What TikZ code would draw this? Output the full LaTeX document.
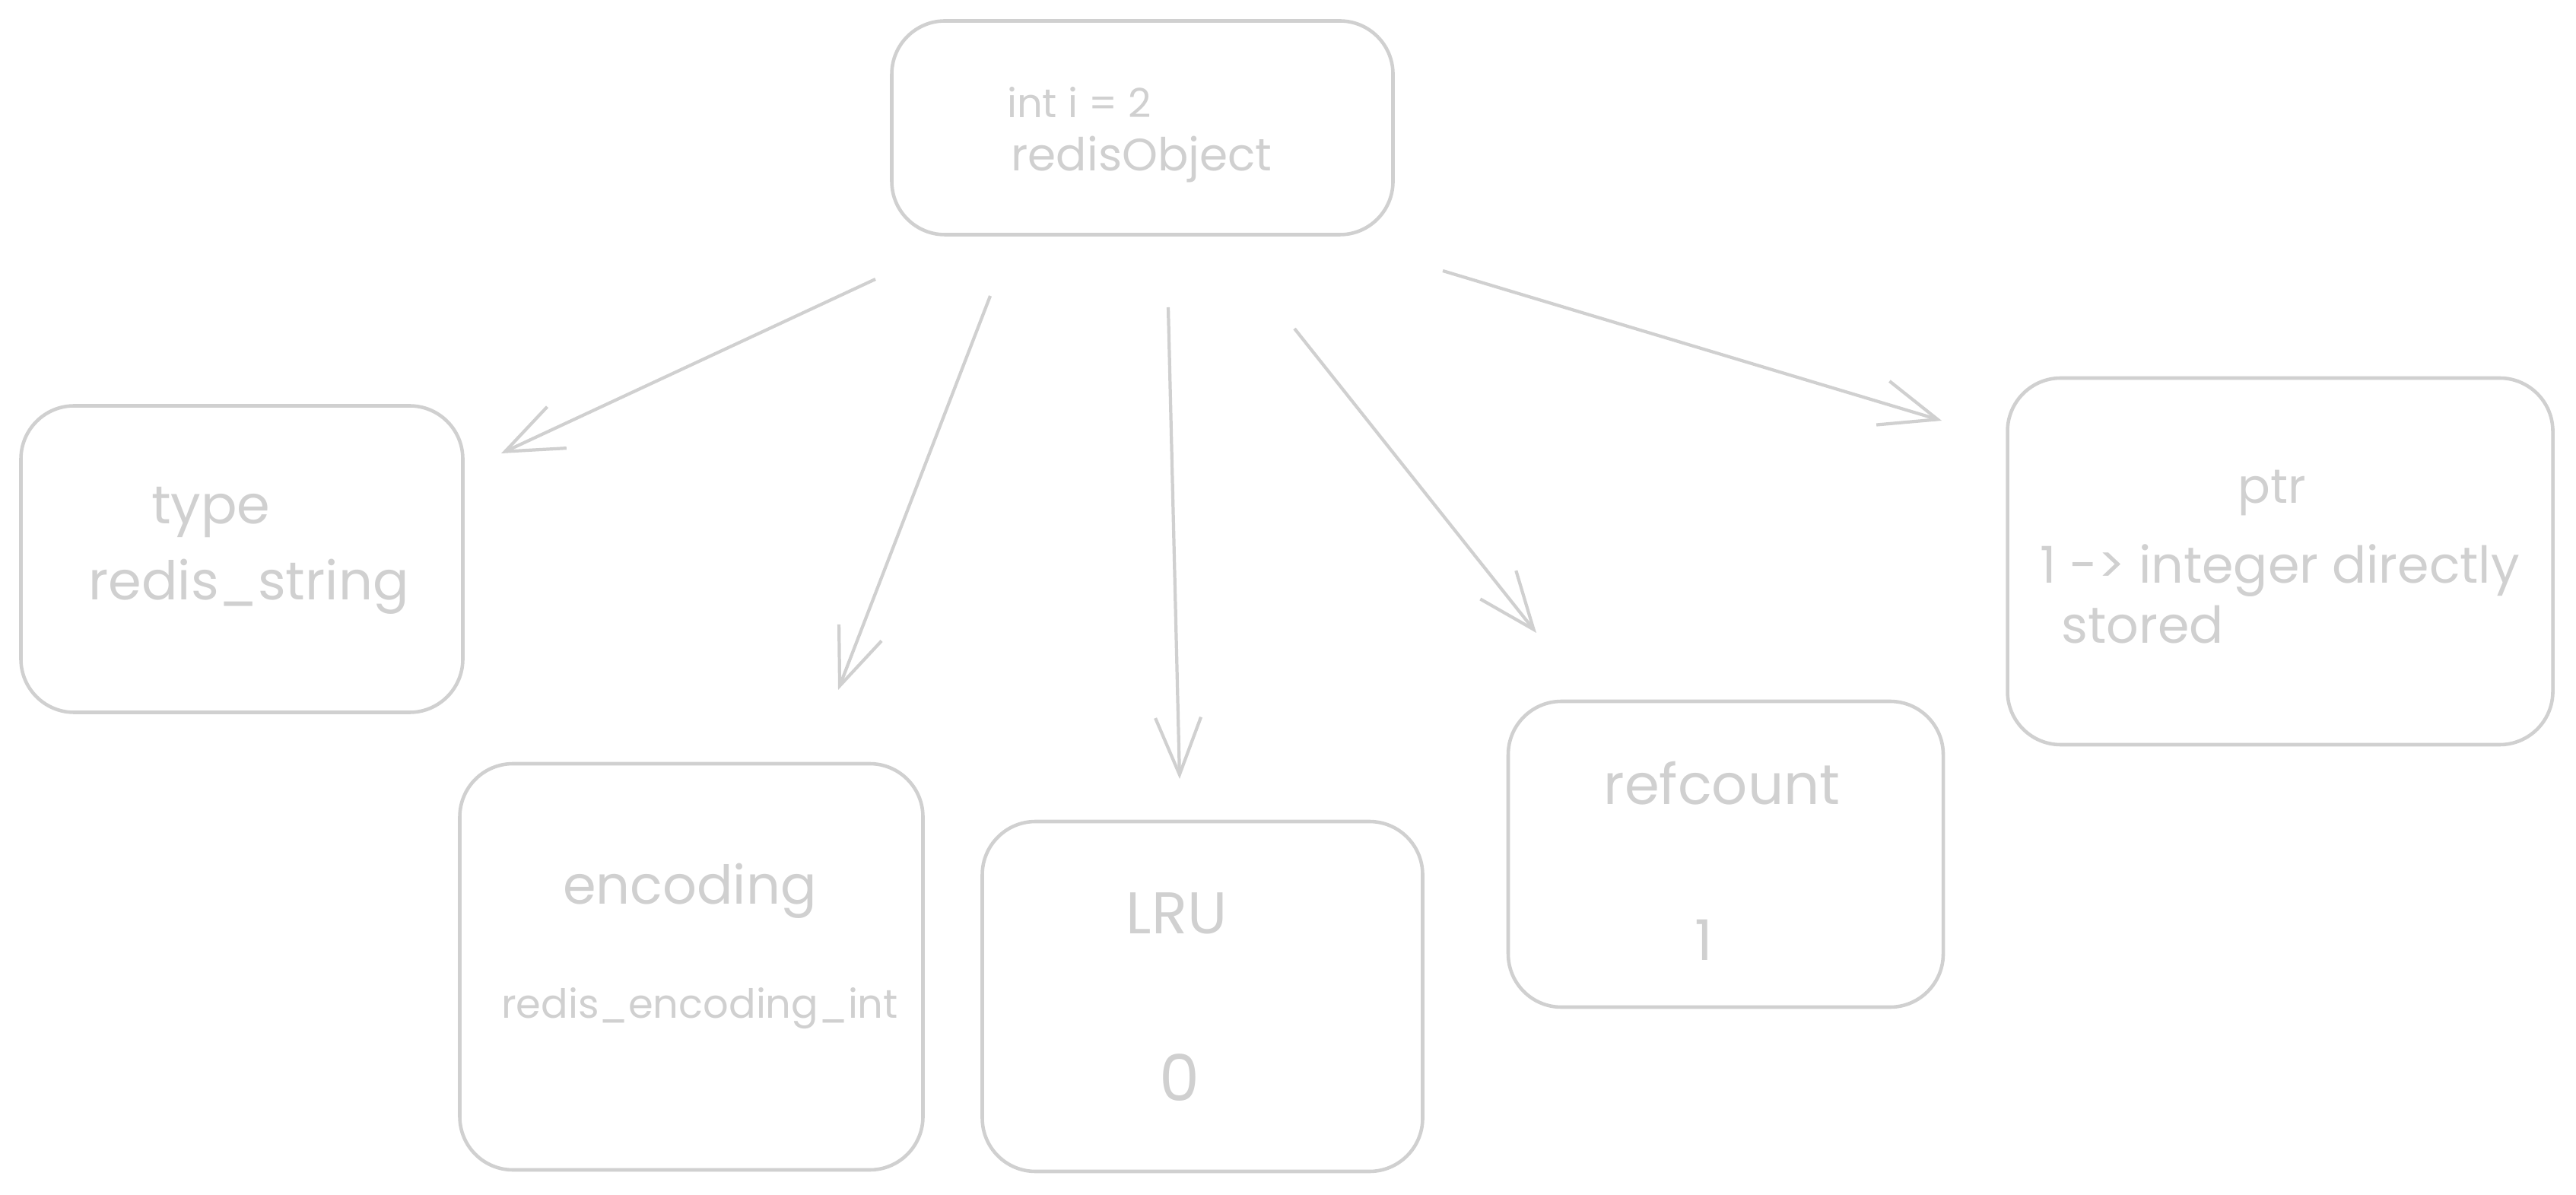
\documentclass[tikz,border=0pt]{standalone}
\usepackage{fontspec}
\setmainfont{Poppins}
\usetikzlibrary{arrows.meta}
\definecolor{sketch}{HTML}{D0D0D0}
\tikzset{
  field/.style={draw=sketch, line width=1.3pt, rounded corners=0.7cm, inner sep=0pt},
  txt/.style={text=sketch, inner sep=1pt},
  link/.style={draw=sketch, line width=1.2pt, -{Straight Barb[length=0.75cm, width=0.6cm, line width=1.2pt]}},
}
\begin{document}
\begin{tikzpicture}[scale=1]
  \useasboundingbox (0,0) rectangle (33.87,15.70);
  % boxes
  \node[field, minimum width=6.59cm, minimum height=2.81cm] (obj) at (15.02,14.02) {};
  \node[field, minimum width=5.81cm, minimum height=4.03cm] (type) at (3.18,8.35) {};
  \node[field, minimum width=6.09cm, minimum height=5.34cm] (enc) at (9.09,2.99) {};
  \node[field, minimum width=5.79cm, minimum height=4.60cm] (lru) at (15.81,2.60) {};
  \node[field, minimum width=5.72cm, minimum height=4.02cm] (ref) at (22.69,4.47) {};
  \node[field, minimum width=7.17cm, minimum height=4.82cm] (ptr) at (29.98,8.32) {};
  % texts
  \node[txt, font=\fontsize{15}{18}\selectfont] (objA) at (14.19,14.36) {int i = 2};
  \node[txt, font=\fontsize{17}{20}\selectfont] (objB) at (15.01,13.60) {redisObject};
  \node[txt, anchor=west, font=\fontsize{20}{24}\selectfont] (typeA) at (1.95,8.96) {type};
  \node[txt, font=\fontsize{20}{24}\selectfont] (typeB) at (3.27,7.99) {redis\_string};
  \node[txt, font=\fontsize{20}{24}\selectfont] (encA) at (9.07,3.99) {encoding};
  \node[txt, font=\fontsize{15}{18}\selectfont] (encB) at (9.20,2.44) {redis\_encoding\_int};
  \node[txt, font=\fontsize{22}{26}\selectfont] (lruA) at (15.47,3.69) {LRU};
  \node[txt, font=\fontsize{24}{28}\selectfont] (lruB) at (15.51,1.53) {0};
  \node[txt, font=\fontsize{21}{25}\selectfont] (refA) at (22.64,5.40) {refcount};
  \node[txt, font=\fontsize{21}{25}\selectfont] (refB) at (22.40,3.34) {1};
  \node[txt, font=\fontsize{18}{22}\selectfont] (ptrA) at (29.87,9.22) {ptr};
  \node[txt, anchor=west, font=\fontsize{19}{23}\selectfont] (ptrB) at (26.78,8.20) {1 -> integer directly};
  \node[txt, anchor=west, font=\fontsize{19}{23}\selectfont] (ptrC) at (27.06,7.49) {stored};
  % arrow ends
  \coordinate (s1) at (11.51,12.03); \coordinate (e1) at (6.59,9.74);
  \coordinate (s2) at (13.02,11.81); \coordinate (e2) at (11.02,6.63);
  \coordinate (s3) at (15.36,11.66); \coordinate (e3) at (15.51,5.46);
  \coordinate (s4) at (17.02,11.38); \coordinate (e4) at (20.20,7.38);
  \coordinate (s5) at (18.97,12.14); \coordinate (e5) at (25.53,10.17);
  \foreach \i in {1,...,5}
    \draw[link] (s\i) -- (e\i);
\end{tikzpicture}
\end{document}
